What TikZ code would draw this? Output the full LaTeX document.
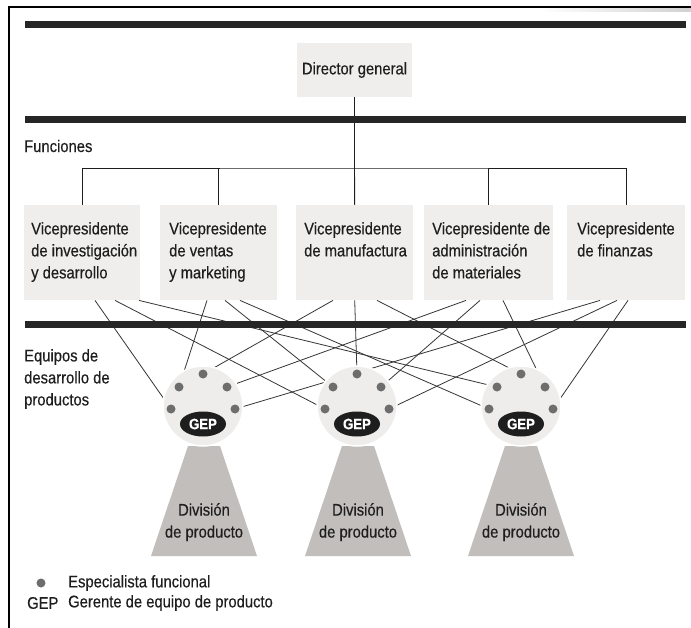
\documentclass[tikz,border=0pt]{standalone}
\usepackage{fontspec}
\setmainfont{Liberation Sans}[FakeStretch=0.88, FakeBold=0.35]
\usetikzlibrary{calc,shapes.geometric}
\definecolor{ink}{HTML}{1E1E1E}
\definecolor{boxfill}{HTML}{EFEEED}
\definecolor{teamfill}{HTML}{EEEDEC}
\definecolor{dotgray}{HTML}{6D6D6D}
\definecolor{divfill}{HTML}{C1BEBB}
\definecolor{barcol}{HTML}{262626}
\begin{document}
\begin{tikzpicture}[x=1pt,y=-1pt,
  lbl/.style={font=\fontsize{16.8}{22}\selectfont, text=ink, inner sep=0pt},
  vpbox/.style={rectangle, fill=boxfill, inner sep=0pt, minimum height=95pt, anchor=north west},
  bar/.style={line width=7pt, draw=barcol},
  tree/.style={line width=0.9pt, draw=ink},
  link/.style={line width=0.8pt, draw=ink!90},
  team/.style={circle, fill=teamfill, draw=white, line width=1.5pt, minimum size=80pt, inner sep=0pt},
  spec/.style={circle, fill=dotgray, minimum size=9pt, inner sep=0pt},
  gep/.style={ellipse, fill=ink, minimum width=46pt, minimum height=25pt, inner sep=0pt, text=white, font=\fontsize{15}{15}\selectfont\bfseries},
  division/.style={fill=divfill}]
\useasboundingbox (0,0) rectangle (691,628);
\fill[white] (0,0) rectangle (691,628);

% outer frame
\shade[left color=white, right color=black!18] (540,8) rectangle (691,12);
\draw[line width=2pt, draw=black] (9,628) -- (9,7) -- (691,7);

% top level
\node[rectangle, fill=boxfill, minimum width=115pt, minimum height=54pt, inner sep=0pt] (dir) at (354.5,70) {};
\node[lbl] (dirtxt) at (dir.center) {Director general};

\node[lbl, anchor=west] (fun) at (24,146) {Funciones};

% vice-presidents
\node[vpbox, minimum width=116pt] (vp1) at (24,205) {};
\node[vpbox, minimum width=117pt] (vp2) at (160,205) {};
\node[vpbox, minimum width=117pt] (vp3) at (296,205) {};
\node[vpbox, minimum width=129pt] (vp4) at (424,205) {};
\node[vpbox, minimum width=118pt] (vp5) at (567,205) {};

\node[lbl, align=left, anchor=north west] (vp1t) at ([shift={(7,17)}]vp1.north west) {Vicepresidente\\de investigación\\y desarrollo};
\node[lbl, align=left, anchor=north west] (vp2t) at ([shift={(9,17)}]vp2.north west) {Vicepresidente\\de ventas\\y marketing};
\node[lbl, align=left, anchor=north west] (vp3t) at ([shift={(8,17)}]vp3.north west) {Vicepresidente\\de manufactura};
\node[lbl, align=left, anchor=north west] (vp4t) at ([shift={(8,17)}]vp4.north west) {Vicepresidente de\\administración\\de materiales};
\node[lbl, align=left, anchor=north west] (vp5t) at ([shift={(10,17)}]vp5.north west) {Vicepresidente\\de finanzas};

% reporting lines
\coordinate (hub) at (354.5,168);
\draw[tree] (dir.south) -- (hub);
\draw[tree] (vp1.north) |- (hub) -| (vp5.north);
\draw[tree] (vp2.north) -- (vp2.north |- hub);
\draw[tree] (vp3.north) -- (hub);
\draw[tree] (vp4.north) -- (vp4.north |- hub);

% product divisions
\foreach \cx/\nm in {204/d1, 358/d2, 521/d3}{
  \fill[division] (\cx-16,446) -- (\cx+16,446) -- (\cx+53,556) -- (\cx-53,556) -- cycle;
  \node[lbl, align=center, anchor=north] (\nm) at (\cx,503) {División\\de producto};
}

% team positions
\coordinate (t1c) at (203,406);
\coordinate (t2c) at (357,406);
\coordinate (t3c) at (521,406);
\foreach \t in {1,2,3}{
  \coordinate (s\t a) at ([shift={(-32,3)}]t\t c);
  \coordinate (s\t b) at ([shift={(-24,-19)}]t\t c);
  \coordinate (s\t c) at ([shift={(0,-32)}]t\t c);
  \coordinate (s\t d) at ([shift={(24,-19)}]t\t c);
  \coordinate (s\t e) at ([shift={(32,3)}]t\t c);
  \coordinate (g\t) at ([shift={(0,18)}]t\t c);
}

% links between functions and team specialists
\draw[link] ([xshift=71pt]vp1.south west) -- (s1a);
\draw[link] ([xshift=91pt]vp1.south west) -- (s2a);
\draw[link] ([xshift=115pt]vp1.south west) -- (s3b);
\draw[link] ([xshift=47pt]vp2.south west) -- (s1b);
\draw[link] ([xshift=65pt]vp2.south west) -- (s2b);
\draw[link] ([xshift=80pt]vp2.south west) -- (s3a);
\draw[link] ([xshift=37pt]vp3.south west) -- (s1c);
\draw[link] (vp3.south) -- (s2c);
\draw[link] ([xshift=81pt]vp3.south west) -- (s3c);
\draw[link] ([xshift=42pt]vp4.south west) -- (s1d);
\draw[link] ([xshift=56pt]vp4.south west) -- (s2d);
\draw[link] ([xshift=79pt]vp4.south west) -- (s3d);
\draw[link] ([xshift=33pt]vp5.south west) -- (s1e);
\draw[link] ([xshift=50pt]vp5.south west) -- (s2e);
\draw[link] ([xshift=61pt]vp5.south west) -- (s3e);

% level bars
\draw[bar] (25,24.5) -- (686,24.5);
\draw[bar] (25,119.5) -- (686,119.5);
\draw[bar] (25,324.5) -- (686,324.5);

% teams
\foreach \t in {1,2,3}{
  \node[team] (team\t) at (t\t c) {};
  \foreach \s in {a,b,c,d,e}{
    \node[spec] (sp\t\s) at (s\t\s) {};
  }
  \node[gep] (gep\t) at (g\t) {GEP};
}

\node[lbl, align=left, anchor=north west] (eq) at (24,349) {Equipos de\\desarrollo de\\productos};

% legend
\node[spec] (legdot) at (41,583) {};
\node[lbl, anchor=west] (legspec) at (68,583) {Especialista funcional};
\node[lbl, anchor=west] (leggep) at (27,603) {GEP};
\node[lbl, anchor=west] (leggept) at (68,603) {Gerente de equipo de producto};
\end{tikzpicture}
\end{document}
